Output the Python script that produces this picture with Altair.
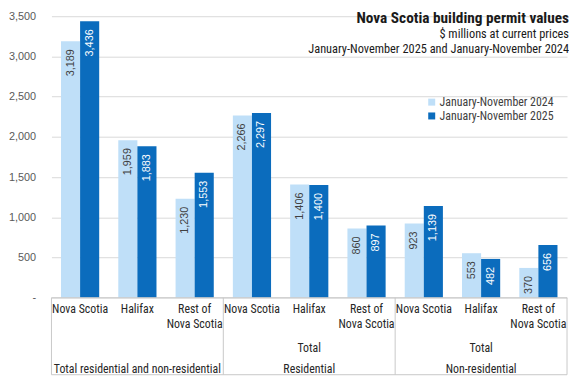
import altair as alt
import pandas as pd

# ---- data ----
groups = ["Total residential and non-residential", "Residential", "Non-residential"]
group_prefix = ["", "Total", "Total"]
places = ["Nova Scotia", "Halifax", "Rest of\nNova Scotia"]
series = ["January-November 2024", "January-November 2025"]
v2024 = [3189, 1959, 1230, 2266, 1406, 860, 923, 553, 370]
v2025 = [3436, 1883, 1553, 2297, 1400, 897, 1139, 482, 656]
title_lines = ["Nova Scotia building  permit values",
               "$ millions at current prices",
               "January-November  2025 and January-November  2024"]

LIGHT = "#bfdff8"
DARK = "#0b6cbd"
LINE = "#c8c8c8"
NARROW = "Liberation Sans Narrow, Roboto Condensed, Roboto"
W, H = 522, 285
T = 78  # table depth below plot
STEP = W / 9
BW = STEP / 3

df24 = pd.DataFrame({"slot": list(range(9)), "series": series[0], "value": v2024})
df25 = pd.DataFrame({"slot": list(range(9)), "series": series[1], "value": v2025})
cats = pd.DataFrame({"slot": list(range(9)),
                     "label": [places[i % 3] for i in range(9)]})
grp = pd.DataFrame({"slot": [1, 4, 7], "group": groups, "prefix": group_prefix})
bounds_left = pd.DataFrame({"slot": [0, 3, 6]})
bounds_right = pd.DataFrame({"slot": [8]})
titles = pd.DataFrame({"t": title_lines})

x_enc = alt.X("slot:O", scale=alt.Scale(paddingInner=0, paddingOuter=0), axis=None)
y_enc = alt.Y("value:Q",
              scale=alt.Scale(domain=[0, 3500], nice=False),
              axis=alt.Axis(tickCount=8,
                            labelExpr="datum.value == 0 ? '-' : format(datum.value, ',')",
                            ticks=False, domain=False, grid=True, gridColor="#d9d9d9",
                            labelColor="#595959", labelFontSize=11,
                            labelFont="Liberation Sans", labelPadding=16,
                            minExtent=37, maxExtent=37, title=None))
color_enc = alt.Color("series:N",
                      scale=alt.Scale(domain=series, range=[LIGHT, DARK]),
                      legend=alt.Legend(orient="none", legendX=379, legendY=81, title=None,
                                        symbolType="square", symbolSize=50,
                                        symbolStrokeWidth=0, labelFontSize=12,
                                        labelFont=NARROW, labelColor="#404040",
                                        rowPadding=2, labelOffset=2, padding=0))

bar_layers = []
text_layers = []
for d, off, tc in [(df24, -BW / 2, "#404040"), (df25, BW / 2, "white")]:
    bar_layers.append(alt.Chart(d).mark_bar(width=BW, xOffset=off).encode(
        x=x_enc, y=y_enc, color=color_enc))
    text_layers.append(alt.Chart(d).mark_text(angle=270, align="right", baseline="middle",
                                              dx=-8, xOffset=off, fontSize=11,
                                              font="Liberation Sans", color=tc).encode(
        x=x_enc, y=y_enc, text=alt.Text("value:Q", format=",")))

cat_text = alt.Chart(cats).mark_text(baseline="top", lineBreak="\n", fontSize=12,
                                     font=NARROW, color="#262626", lineHeight=15).encode(
    x=x_enc, y=alt.value(H + 7), text="label:N")
prefix_text = alt.Chart(grp).mark_text(baseline="middle", fontSize=12, font=NARROW,
                                       color="#262626").encode(
    x=x_enc, y=alt.value(H + 51), text="prefix:N")
group_text = alt.Chart(grp).mark_text(baseline="middle", fontSize=12, font=NARROW,
                                      color="#262626").encode(
    x=x_enc, y=alt.value(H + 72), text="group:N")

vl = alt.Chart(bounds_left).mark_rule(color=LINE).encode(
    x=alt.X("slot:O", bandPosition=0, scale=alt.Scale(paddingInner=0, paddingOuter=0), axis=None),
    y=alt.value(H), y2=alt.value(H + T))
vr = alt.Chart(bounds_right).mark_rule(color=LINE).encode(
    x=alt.X("slot:O", bandPosition=1, scale=alt.Scale(paddingInner=0, paddingOuter=0), axis=None),
    y=alt.value(H), y2=alt.value(H + T))
top_line = alt.Chart(bounds_right).mark_rule(color=LINE).encode(
    x=alt.value(0), x2=alt.value(W), y=alt.value(H))
bot_line = alt.Chart(bounds_right).mark_rule(color=LINE).encode(
    x=alt.value(0), x2=alt.value(W), y=alt.value(H + T))

title_layers = []
for k, (fs, fw, yy) in enumerate([(15.5, "bold", 2), (12.5, "normal", 18), (12.5, "normal", 33)]):
    title_layers.append(alt.Chart(titles.iloc[[k]].reset_index(drop=True)).mark_text(
        align="right", baseline="middle", fontSize=fs, fontWeight=fw, font=NARROW,
        color="#1a1a1a").encode(x=alt.value(W + 2), y=alt.value(yy), text="t:N"))

chart = alt.layer(*bar_layers, *text_layers, vl, vr, top_line, bot_line, cat_text,
                  prefix_text, group_text, *title_layers).properties(
    width=W, height=H, padding=0, background="white"
).configure_view(stroke=None)

chart.save("out.html", embed_options={"renderer": "svg", "actions": False})
